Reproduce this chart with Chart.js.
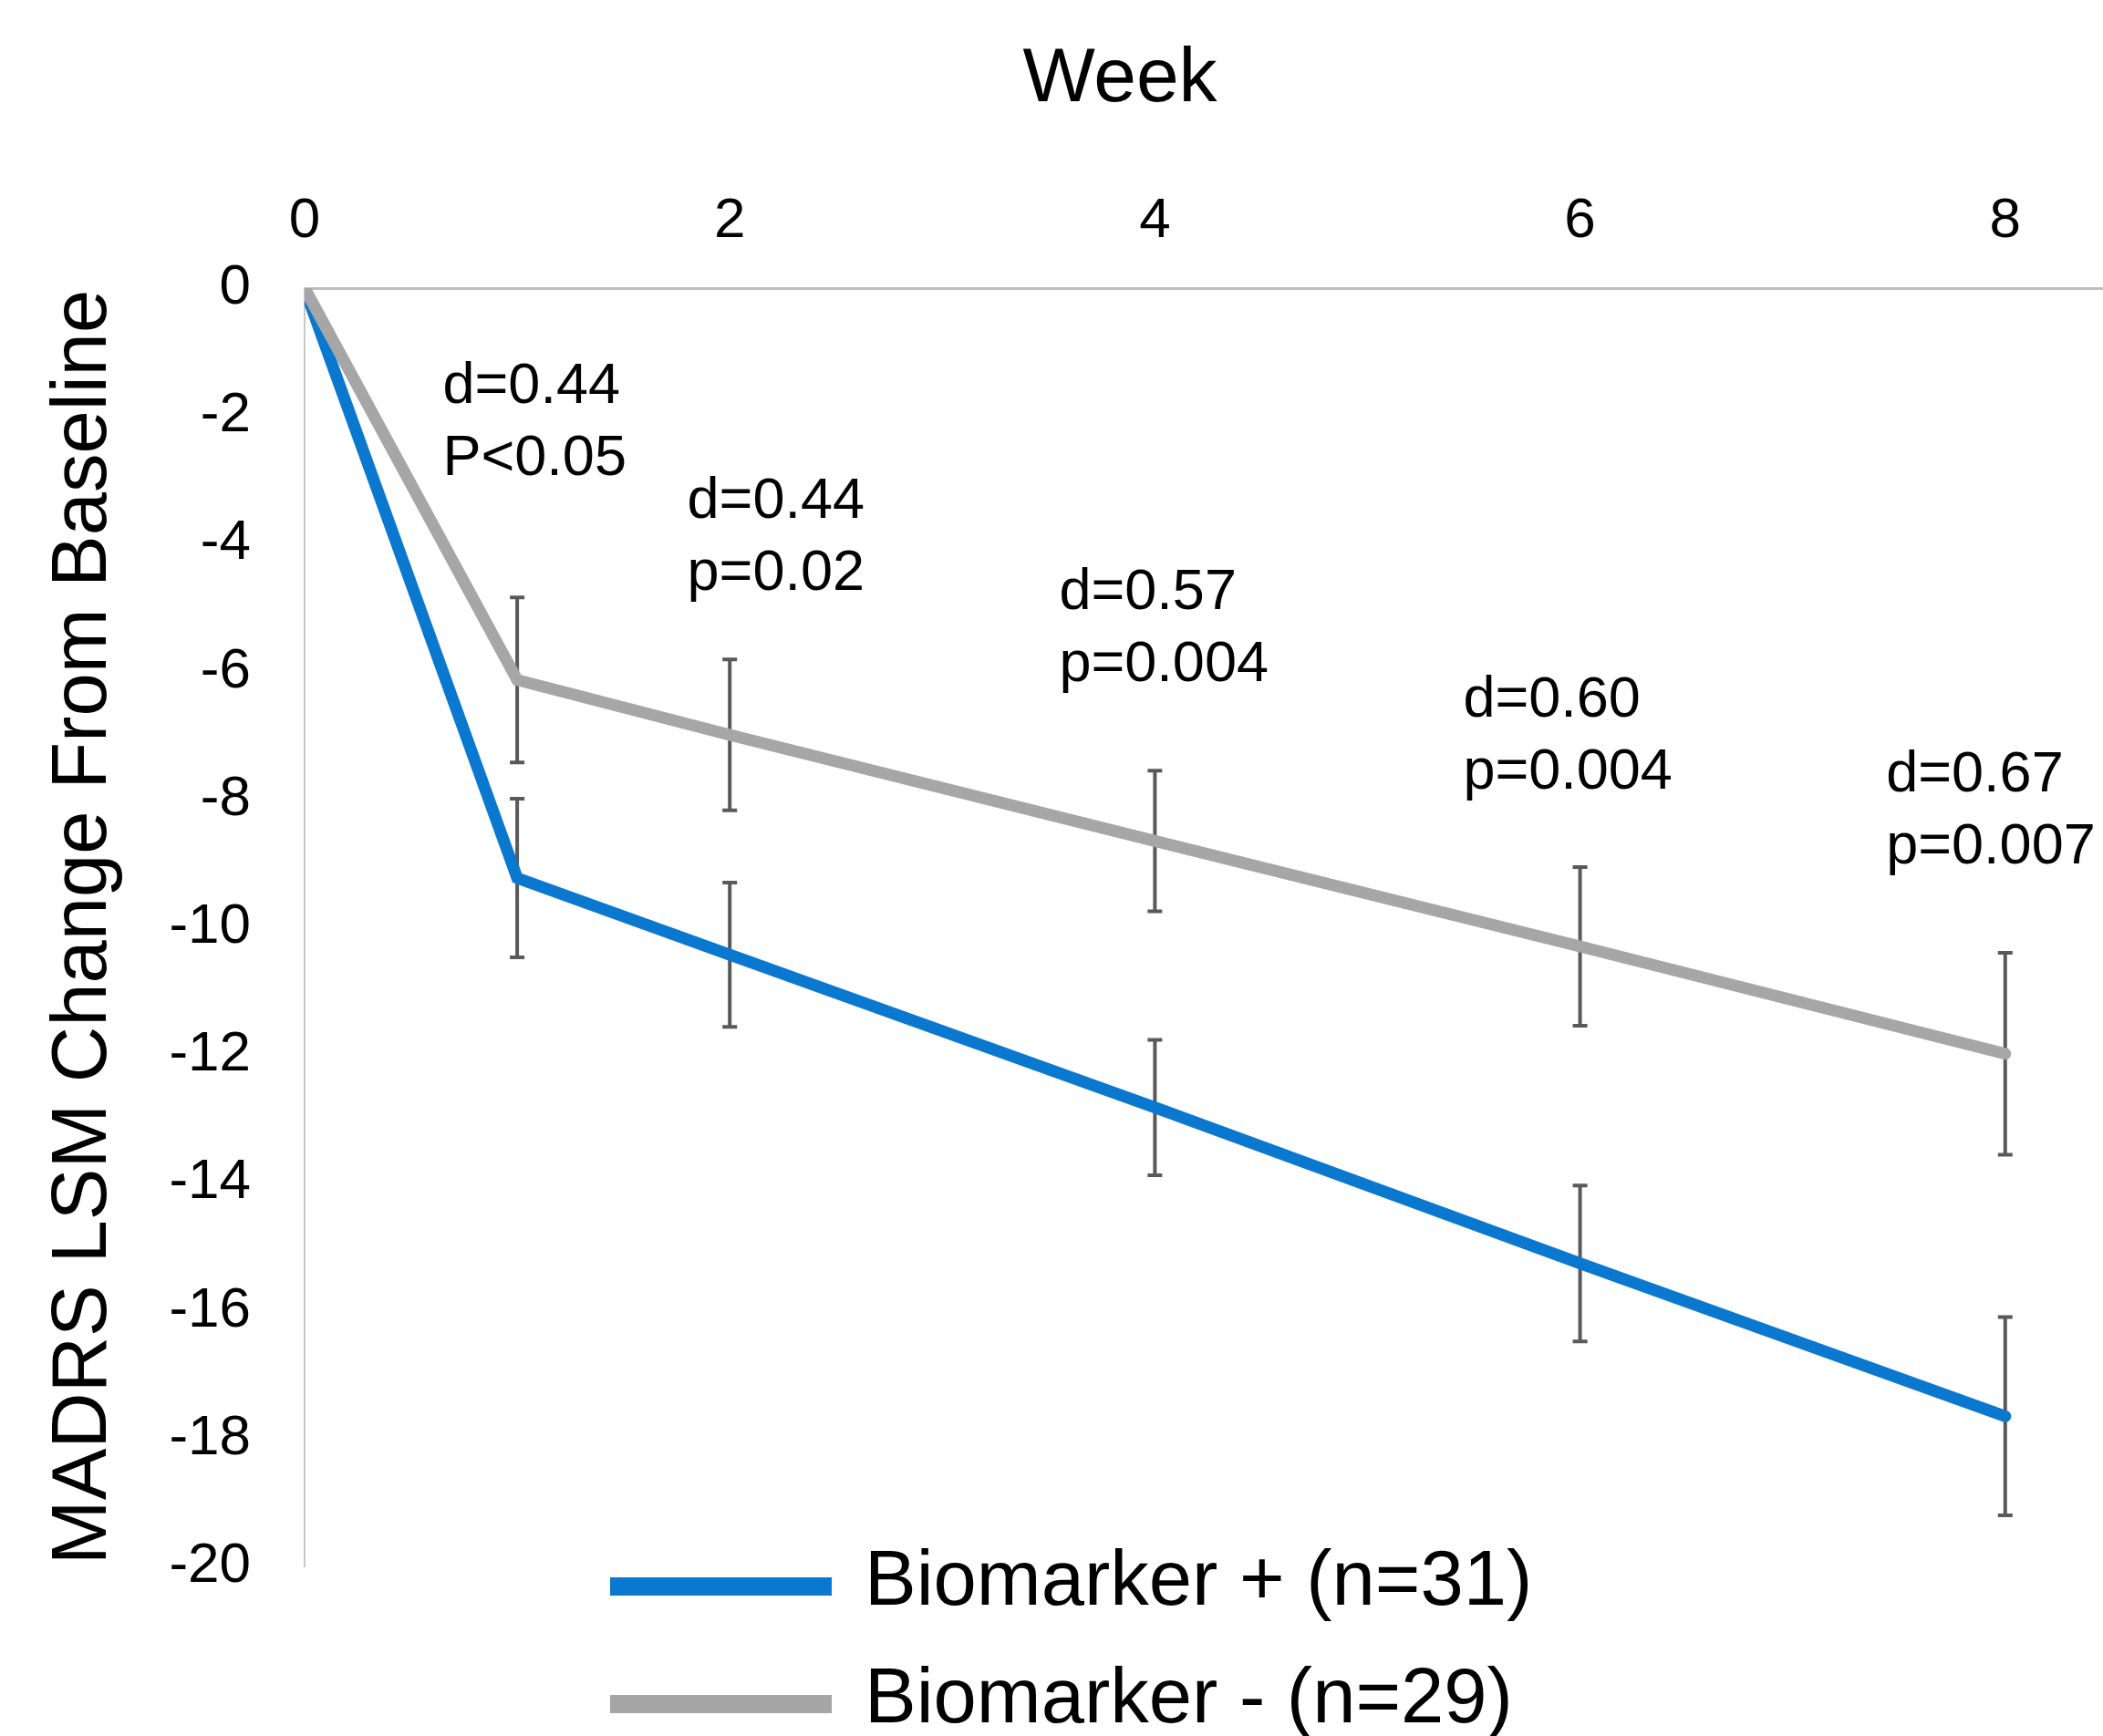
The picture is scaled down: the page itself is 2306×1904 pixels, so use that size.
<!DOCTYPE html>
<html>
<head>
<meta charset="utf-8">
<script src="https://cdn.jsdelivr.net/npm/chart.js@4.4.1/dist/chart.umd.min.js"></script>
<style>
  html, body { margin: 0; padding: 0; background: #fff; }
  #wrap { width: 2306px; height: 1904px; }
</style>
</head>
<body>
<div id="wrap"><canvas id="chart"></canvas></div>
<script>
// MADRS LSM change from baseline by week
const weeks = [0, 1, 2, 4, 6, 8];
const posMeans = [0, -9.23, -10.43, -12.82, -15.26, -17.65];
const posErrors = [null, 1.24, 1.13, 1.06, 1.22, 1.55];
const negMeans = [0, -6.13, -6.99, -8.65, -10.30, -11.98];
const negErrors = [null, 1.29, 1.18, 1.10, 1.24, 1.58];
const seriesLabels = ['Biomarker + (n=31)', 'Biomarker - (n=29)'];
const seriesColors = ['#0b78d0', '#a6a6a6'];
const xTicks = [0, 2, 4, 6, 8];
const yTicks = [0, -2, -4, -6, -8, -10, -12, -14, -16, -18, -20];

// effect size / p value notes, anchored in week / score units
const noteLines = [
  ['d=0.44', 'P<0.05'],
  ['d=0.44', 'p=0.02'],
  ['d=0.57', 'p=0.004'],
  ['d=0.60', 'p=0.004'],
  ['d=0.67', 'p=0.007']
];
const noteWeeks = [0.65, 1.80, 3.55, 5.45, 7.44];
const noteScores = [-1.55, -3.35, -4.77, -6.45, -7.63];

const FONT = '"Liberation Sans", Arial, sans-serif';

// error bars go under the lines
const errorBars = {
  id: 'errorBars',
  beforeDatasetsDraw(chart) {
    const {ctx, scales: {x, y}} = chart;
    ctx.save();
    ctx.strokeStyle = '#595959';
    ctx.lineWidth = 4;
    [[posMeans, posErrors], [negMeans, negErrors]].forEach(([means, errs]) => {
      weeks.forEach((w, i) => {
        if (errs[i] == null) return;
        const px = x.getPixelForValue(w);
        const top = y.getPixelForValue(means[i] + errs[i]);
        const bot = y.getPixelForValue(means[i] - errs[i]);
        ctx.beginPath();
        ctx.moveTo(px, top); ctx.lineTo(px, bot);
        ctx.moveTo(px - 8, top); ctx.lineTo(px + 8, top);
        ctx.moveTo(px - 8, bot); ctx.lineTo(px + 8, bot);
        ctx.stroke();
      });
    });
    ctx.restore();
  }
};

// notes, "Week" title and the stacked legend
const extras = {
  id: 'extras',
  afterDraw(chart) {
    const {ctx, chartArea, scales: {x, y}} = chart;
    ctx.save();
    ctx.fillStyle = '#000';

    ctx.font = '63px ' + FONT;
    ctx.textAlign = 'left';
    ctx.textBaseline = 'middle';
    noteLines.forEach((lines, i) => {
      const px = x.getPixelForValue(noteWeeks[i]);
      const py = y.getPixelForValue(noteScores[i]);
      lines.forEach((t, j) => ctx.fillText(t, px, py + j * 79));
    });

    ctx.font = '84px ' + FONT;
    ctx.textAlign = 'center';
    ctx.fillText('Week', 1228, 88);

    ctx.font = '85px ' + FONT;
    ctx.textAlign = 'left';
    ctx.textBaseline = 'alphabetic';
    seriesLabels.forEach((label, i) => {
      const ly = chartArea.bottom + 22 + i * 129;
      ctx.strokeStyle = seriesColors[i];
      ctx.lineWidth = 20;
      ctx.beginPath();
      ctx.moveTo(669, ly); ctx.lineTo(912, ly);
      ctx.stroke();
      ctx.fillText(label, 948, ly + 20);
    });
    ctx.restore();
  }
};

const toPoints = means => weeks.map((w, i) => ({x: w, y: means[i]}));

new Chart(document.getElementById('chart'), {
  type: 'line',
  data: {
    datasets: [{
      label: seriesLabels[0],
      data: toPoints(posMeans),
      borderColor: seriesColors[0],
      borderWidth: 13,
      pointRadius: 0,
      borderCapStyle: 'round',
      order: 2
    }, {
      label: seriesLabels[1],
      data: toPoints(negMeans),
      borderColor: seriesColors[1],
      borderWidth: 13,
      pointRadius: 0,
      borderCapStyle: 'round',
      order: 1
    }]
  },
  options: {
    responsive: true,
    maintainAspectRatio: false,
    animation: false,
    devicePixelRatio: 1,
    layout: { padding: { left: 0, right: 0, top: 0, bottom: 186 } },
    plugins: {
      legend: { display: false },
      tooltip: { enabled: false }
    },
    scales: {
      x: {
        type: 'linear',
        position: 'top',
        min: 0,
        max: 8.46,
        afterBuildTicks: s => { s.ticks = xTicks.map(v => ({value: v})); },
        afterFit: s => { s.height = 316; },
        grid: { display: false, drawTicks: false },
        border: { display: true, color: '#bfbfbf', width: 3 },
        ticks: { color: '#000', padding: 36, font: { size: 62, family: FONT } }
      },
      y: {
        type: 'linear',
        min: -20,
        max: 0,
        afterBuildTicks: s => { s.ticks = yTicks.map(v => ({value: v})); },
        afterFit: s => { s.width = 334; },
        grid: { display: false, drawTicks: false },
        border: { display: true, color: '#c8c8c8', width: 2 },
        ticks: { color: '#000', padding: 59, font: { size: 62, family: FONT } },
        title: {
          display: true,
          text: 'MADRS LSM Change From Baseline',
          color: '#000',
          padding: { top: 42, bottom: 0 },
          font: { size: 85, family: FONT }
        }
      }
    }
  },
  plugins: [errorBars, extras]
});
</script>
</body>
</html>
